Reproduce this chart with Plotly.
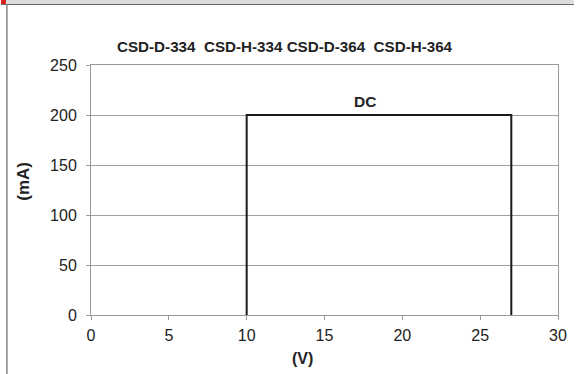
import plotly.graph_objects as go

voltage_v = [10, 10, 27, 27]
current_ma = [0, 200, 200, 0]
x_ticks = [0, 5, 10, 15, 20, 25, 30]
y_ticks = [0, 50, 100, 150, 200, 250]
title_text = "CSD-D-334  CSD-H-334 CSD-D-364  CSD-H-364"
curve_label = "DC"

W, H = 579, 374
L, R, T, B = 91, 16, 65, 59
pw, ph = W - L - R, H - T - B

def px_x(p):
    return (p - L) / pw

def px_y(p):
    return (H - B - p) / ph

fig = go.Figure()
fig.add_trace(go.Scatter(x=voltage_v, y=current_ma, mode="lines",
                         line=dict(color="#1a1a1a", width=2), showlegend=False,
                         hoverinfo="skip"))

font = "Liberation Sans, Arial, sans-serif"
fig.update_layout(
    width=W, height=H,
    margin=dict(l=L, r=R, t=T, b=B),
    paper_bgcolor="white", plot_bgcolor="white",
    font=dict(family=font, size=16, color="#222"),
    xaxis=dict(range=[0, 30], tickvals=x_ticks, showgrid=False, zeroline=False,
               showline=True, linecolor="#999", linewidth=1, mirror=True,
               ticks="outside", ticklen=4, tickcolor="#999",
               ticklabelstandoff=2,
               tickfont=dict(family=font, size=16, color="#222")),
    yaxis=dict(range=[0, 250], tickvals=y_ticks, showgrid=True, gridcolor="#a0a0a0",
               gridwidth=1, zeroline=False, showline=True, linecolor="#999",
               linewidth=1, mirror=True, ticks="outside", ticklen=4,
               ticklabelstandoff=6,
               tickcolor="#999", tickfont=dict(family=font, size=16, color="#222")),
)

fig.add_annotation(text="<b>" + title_text + "</b>", xref="paper", yref="paper",
                   x=px_x(287), y=px_y(47), xanchor="center", yanchor="middle",
                   showarrow=False, font=dict(family=font, size=15.2, color="#222"))
fig.add_annotation(text="<b>" + curve_label + "</b>", xref="x", yref="y",
                   x=17.6, y=214, xanchor="center", yanchor="middle",
                   showarrow=False, font=dict(family=font, size=15.5, color="#222"))
fig.add_annotation(text="<b>(V)</b>", xref="paper", yref="paper",
                   x=px_x(305), y=px_y(358), xanchor="center", yanchor="middle",
                   showarrow=False, font=dict(family=font, size=16, color="#222"))
fig.add_annotation(text="<b>(mA)</b>", xref="paper", yref="paper",
                   x=px_x(22), y=px_y(181), xanchor="center", yanchor="middle",
                   showarrow=False, textangle=-90,
                   font=dict(family=font, size=17, color="#222"))

# header band and frame
fig.add_shape(type="rect", xref="paper", yref="paper", x0=px_x(0), x1=px_x(W),
              y0=px_y(4), y1=px_y(0), fillcolor="#dcdcdc", line_width=0, layer="below")
fig.add_shape(type="line", xref="paper", yref="paper", x0=px_x(0), x1=px_x(W),
              y0=px_y(4.5), y1=px_y(4.5), line=dict(color="#666", width=1))
fig.add_shape(type="rect", xref="paper", yref="paper", x0=px_x(0), x1=px_x(5),
              y0=px_y(4), y1=px_y(0), fillcolor="#e02020", line_width=0)
fig.add_shape(type="line", xref="paper", yref="paper", x0=px_x(6), x1=px_x(6),
              y0=px_y(4.5), y1=px_y(H), line=dict(color="#888", width=1.5))

fig.write_html("out.html")
